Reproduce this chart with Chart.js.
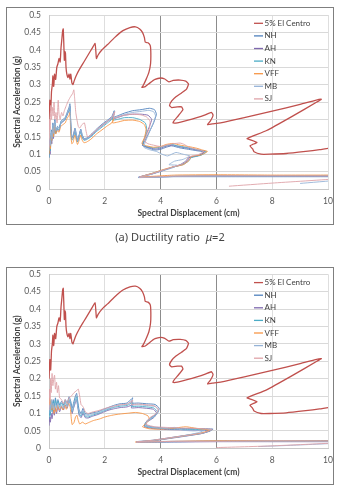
<!DOCTYPE html>
<html>
<head>
<meta charset="utf-8">
<script src="https://cdn.jsdelivr.net/npm/chart.js@4.4.1/dist/chart.umd.min.js"></script>
<style>
  body { margin: 0; background: #fff; width: 340px; height: 493px; position: relative; overflow: hidden; }
  .panel { position: absolute; left: 0; width: 340px; height: 230px; }
  .frame { position: absolute; left: 6px; width: 326px; border: 1px solid #7f7f7f; pointer-events: none; }
  .caption { position: absolute; left: 0; width: 340px; text-align: center; font: 11px "Noto Sans", sans-serif; color: #444; }
</style>
</head>
<body>
<div class="panel" style="top:0"><canvas id="chartMu2" width="340" height="230"></canvas></div>
<div class="frame" style="top:7px;height:216px"></div>
<div class="caption" style="top:229px">(a) Ductility ratio &nbsp;<i>μ</i>=2</div>
<div class="panel" style="top:260px"><canvas id="chartMu4" width="340" height="230"></canvas></div>
<div class="frame" style="top:267px;height:216px"></div>
<script>
// series labels and colours
const seriesLabels = ['5% El Centro', 'NH', 'AH', 'KN', 'VFF', 'MB', 'SJ'];
const seriesColors = ['#C0504D', '#4F81BD', '#7E68AE', '#4BACC6', '#F79646', '#95B3D7', '#DFA3A8'];

// tick labels
const xTicks = [0, 2, 4, 6, 8, 10];
const yTicks = [0, 0.05, 0.1, 0.15, 0.2, 0.25, 0.3, 0.35, 0.4, 0.45, 0.5];

// 5% damped elastic spectrum (same in both panels) - [Sd cm, Sa g]
const elCentro = [[0.0,0.20],[0.03,0.255],[0.06,0.225],[0.09,0.28],[0.12,0.30],[0.14,0.325],[0.17,0.295],[0.2,0.33],[0.24,0.315],[0.28,0.35],[0.32,0.36],[0.36,0.375],[0.4,0.365],[0.43,0.405],[0.46,0.43],[0.49,0.455],[0.51,0.46],[0.53,0.42],[0.55,0.37],[0.57,0.395],[0.59,0.39],[0.61,0.35],[0.64,0.33],[0.68,0.32],[0.72,0.33],[0.75,0.315],[0.78,0.33],[0.82,0.305],[0.86,0.30],[0.9,0.31],[0.97,0.325],[1.1,0.345],[1.25,0.365],[1.4,0.385],[1.55,0.405],[1.65,0.418],[1.68,0.395],[1.7,0.375],[1.76,0.385],[1.9,0.40],[2.1,0.415],[2.35,0.435],[2.65,0.455],[2.9,0.464],[3.1,0.466],[3.25,0.46],[3.35,0.45],[3.42,0.435],[3.45,0.422],[3.55,0.42],[3.63,0.412],[3.65,0.39],[3.64,0.36],[3.58,0.335],[3.48,0.315],[3.38,0.298],[3.33,0.292],[3.45,0.294],[3.62,0.305],[3.8,0.315],[4.0,0.319],[4.15,0.316],[4.3,0.308],[4.45,0.312],[4.7,0.313],[4.9,0.31],[5.0,0.302],[4.93,0.287],[4.75,0.276],[4.55,0.265],[4.4,0.253],[4.32,0.24],[4.4,0.234],[4.6,0.236],[4.75,0.236],[4.8,0.228],[4.65,0.212],[4.5,0.198],[4.44,0.19],[4.6,0.19],[4.95,0.197],[5.3,0.205],[5.6,0.213],[5.82,0.22],[5.88,0.212],[5.78,0.195],[5.68,0.185],[5.85,0.187],[6.15,0.19],[7.0,0.205],[8.0,0.224],[9.0,0.243],[9.55,0.255],[9.76,0.258],[9.6,0.25],[8.7,0.208],[7.8,0.168],[7.1,0.145],[7.2,0.142],[7.45,0.134],[7.3,0.128],[7.2,0.124],[7.3,0.115],[7.35,0.107],[7.6,0.1],[7.9,0.1],[8.5,0.102],[9.2,0.108],[9.7,0.113],[10.0,0.117],[10.6,0.122]];

// ductility ratio 2 demand spectra
const nh2 = [[0.0,0.1],[0.03,0.14],[0.05,0.12],[0.08,0.17],[0.11,0.145],[0.14,0.19],[0.17,0.16],[0.21,0.2],[0.25,0.17],[0.31,0.18],[0.37,0.175],[0.43,0.195],[0.5,0.2],[0.58,0.205],[0.65,0.22],[0.72,0.235],[0.75,0.245],[0.77,0.21],[0.79,0.17],[0.83,0.15],[0.88,0.155],[0.93,0.175],[0.98,0.158],[1.03,0.14],[1.09,0.158],[1.14,0.172],[1.19,0.156],[1.26,0.145],[1.36,0.147],[1.5,0.156],[1.7,0.172],[1.9,0.186],[2.1,0.198],[2.25,0.208],[2.34,0.225],[2.3,0.206],[2.45,0.21],[2.7,0.218],[3.0,0.225],[3.3,0.228],[3.6,0.232],[3.78,0.228],[3.85,0.215],[3.75,0.19],[3.6,0.165],[3.45,0.14],[3.35,0.125],[3.55,0.118],[3.8,0.112],[4.0,0.114],[4.2,0.12],[4.4,0.124],[4.7,0.118],[5.0,0.114],[5.3,0.11],[5.55,0.106],[5.35,0.096],[5.0,0.09],[4.9,0.08],[4.7,0.07],[4.4,0.062],[4.05,0.052],[3.65,0.042],[3.2,0.033],[4.5,0.036],[6.0,0.037],[8.0,0.036],[10.0,0.036],[10.8,0.036]];
const ah2 = [[0.0,0.09],[0.02,0.12],[0.04,0.1],[0.07,0.15],[0.1,0.13],[0.13,0.17],[0.16,0.145],[0.2,0.185],[0.24,0.16],[0.3,0.172],[0.36,0.168],[0.42,0.188],[0.5,0.193],[0.58,0.2],[0.65,0.212],[0.72,0.228],[0.75,0.238],[0.77,0.205],[0.79,0.165],[0.82,0.145],[0.87,0.15],[0.92,0.17],[0.97,0.153],[1.02,0.137],[1.08,0.153],[1.13,0.168],[1.18,0.152],[1.25,0.142],[1.35,0.144],[1.5,0.152],[1.7,0.168],[1.9,0.182],[2.1,0.194],[2.25,0.204],[2.33,0.22],[2.29,0.202],[2.45,0.205],[2.7,0.212],[3.0,0.215],[3.3,0.215],[3.55,0.212],[3.68,0.2],[3.6,0.18],[3.5,0.16],[3.4,0.138],[3.35,0.126],[3.55,0.12],[3.8,0.115],[4.0,0.117],[4.2,0.123],[4.45,0.126],[4.7,0.121],[5.0,0.117],[5.3,0.112],[5.6,0.108],[5.4,0.097],[5.05,0.091],[4.95,0.08],[4.75,0.07],[4.45,0.063],[4.1,0.054],[3.7,0.044],[3.22,0.034],[4.5,0.036],[6.0,0.037],[8.0,0.037],[10.0,0.037],[10.8,0.037]];
const kn2 = [[0.0,0.09],[0.03,0.13],[0.05,0.11],[0.08,0.16],[0.1,0.14],[0.13,0.18],[0.16,0.15],[0.2,0.19],[0.24,0.16],[0.3,0.175],[0.36,0.17],[0.42,0.19],[0.5,0.195],[0.58,0.2],[0.65,0.215],[0.72,0.225],[0.75,0.235],[0.77,0.2],[0.79,0.16],[0.82,0.14],[0.87,0.145],[0.92,0.165],[0.97,0.15],[1.02,0.135],[1.08,0.15],[1.13,0.165],[1.18,0.15],[1.25,0.14],[1.35,0.142],[1.5,0.15],[1.7,0.165],[1.9,0.178],[2.1,0.19],[2.25,0.2],[2.33,0.215],[2.28,0.198],[2.45,0.2],[2.7,0.205],[3.0,0.205],[3.25,0.2],[3.45,0.19],[3.5,0.175],[3.45,0.15],[3.35,0.128],[3.5,0.122],[3.75,0.118],[4.0,0.12],[4.2,0.125],[4.4,0.128],[4.6,0.124],[4.9,0.12],[5.2,0.115],[5.5,0.11],[5.65,0.107],[5.45,0.097],[5.1,0.09],[5.0,0.08],[4.8,0.07],[4.45,0.063],[4.1,0.055],[3.7,0.045],[3.25,0.034],[4.5,0.037],[6.0,0.038],[8.0,0.038],[10.0,0.039],[10.8,0.04]];
const vff2 = [[0.0,0.1],[0.03,0.13],[0.05,0.115],[0.08,0.155],[0.1,0.14],[0.13,0.175],[0.16,0.15],[0.2,0.185],[0.24,0.158],[0.3,0.168],[0.36,0.163],[0.42,0.18],[0.5,0.185],[0.58,0.19],[0.65,0.203],[0.72,0.212],[0.75,0.22],[0.77,0.185],[0.79,0.148],[0.82,0.13],[0.87,0.135],[0.92,0.155],[0.97,0.142],[1.02,0.128],[1.08,0.14],[1.13,0.155],[1.18,0.142],[1.25,0.133],[1.35,0.135],[1.5,0.143],[1.7,0.158],[1.9,0.17],[2.1,0.182],[2.25,0.19],[2.33,0.205],[2.28,0.19],[2.45,0.192],[2.7,0.197],[3.0,0.198],[3.25,0.194],[3.42,0.185],[3.48,0.17],[3.42,0.148],[3.33,0.13],[3.5,0.124],[3.75,0.12],[4.0,0.122],[4.2,0.128],[4.45,0.131],[4.7,0.126],[5.0,0.122],[5.3,0.117],[5.5,0.112],[5.68,0.108],[5.45,0.098],[5.1,0.093],[5.02,0.082],[4.82,0.07],[4.47,0.064],[4.1,0.056],[3.74,0.046],[3.28,0.035],[4.5,0.04],[6.0,0.041],[8.0,0.04],[10.0,0.04],[10.8,0.04]];
const mb2 = [[0.0,0.11],[0.03,0.145],[0.05,0.125],[0.08,0.165],[0.11,0.145],[0.14,0.185],[0.17,0.16],[0.21,0.195],[0.25,0.168],[0.31,0.178],[0.37,0.173],[0.43,0.19],[0.5,0.197],[0.58,0.203],[0.65,0.217],[0.72,0.23],[0.75,0.24],[0.77,0.207],[0.79,0.168],[0.83,0.148],[0.88,0.152],[0.93,0.172],[0.98,0.155],[1.03,0.138],[1.09,0.155],[1.14,0.17],[1.19,0.154],[1.26,0.143],[1.36,0.145],[1.5,0.153],[1.7,0.169],[1.9,0.183],[2.1,0.195],[2.25,0.205],[2.34,0.222],[2.3,0.203],[2.45,0.207],[2.7,0.214],[3.0,0.22],[3.3,0.223],[3.58,0.226],[3.75,0.222],[3.82,0.21],[3.72,0.186],[3.58,0.16],[3.45,0.135],[3.4,0.12],[3.6,0.113],[3.85,0.108],[4.05,0.1],[4.25,0.095],[4.55,0.105],[4.8,0.1],[5.05,0.095],[4.8,0.085],[4.5,0.08],[4.3,0.07],[4.6,0.068],[4.4,0.06],[4.05,0.052],[3.65,0.042],[3.2,0.033],[4.5,0.035],[6.0,0.035],[8.0,0.035],[10.0,0.035],[10.8,0.035],[10.4,0.026],[9.0,0.016]];
const sj2 = [[0.0,0.12],[0.02,0.2],[0.04,0.17],[0.06,0.24],[0.09,0.2],[0.12,0.235],[0.15,0.21],[0.18,0.25],[0.21,0.2],[0.25,0.22],[0.29,0.19],[0.33,0.255],[0.36,0.215],[0.4,0.2],[0.45,0.22],[0.5,0.21],[0.55,0.225],[0.62,0.24],[0.7,0.255],[0.77,0.265],[0.85,0.275],[0.89,0.285],[0.92,0.26],[0.96,0.22],[1.0,0.2],[1.05,0.18],[1.1,0.175],[1.18,0.185],[1.27,0.19],[1.32,0.17],[1.38,0.15],[1.5,0.155],[1.7,0.17],[1.9,0.183],[2.1,0.195],[2.25,0.205],[2.36,0.222],[2.31,0.203],[2.45,0.207],[2.7,0.212],[3.0,0.215],[3.3,0.213],[3.5,0.207],[3.62,0.195],[3.6,0.175],[3.5,0.155],[3.42,0.138],[3.55,0.13],[3.8,0.125],[4.0,0.122],[4.2,0.126],[4.45,0.13],[4.7,0.132],[4.85,0.128],[5.0,0.12],[5.3,0.114],[5.55,0.108],[5.35,0.099],[5.0,0.092],[4.92,0.08],[4.72,0.07],[4.42,0.063],[4.08,0.054],[3.7,0.044],[3.24,0.034],[4.5,0.037],[6.0,0.038],[8.0,0.038],[10.0,0.038],[10.8,0.038],[10.4,0.03],[8.0,0.017],[6.45,0.008]];

// ductility ratio 4 demand spectra
const nh4 = [[0.0,0.095],[0.03,0.12],[0.05,0.1],[0.08,0.135],[0.11,0.11],[0.15,0.14],[0.19,0.12],[0.23,0.145],[0.27,0.125],[0.32,0.14],[0.38,0.125],[0.45,0.135],[0.52,0.125],[0.58,0.14],[0.65,0.13],[0.72,0.148],[0.78,0.135],[0.83,0.115],[0.88,0.13],[0.94,0.148],[0.99,0.158],[1.03,0.135],[1.08,0.11],[1.15,0.1],[1.22,0.115],[1.3,0.1],[1.4,0.098],[1.55,0.102],[1.75,0.105],[1.95,0.112],[2.15,0.118],[2.35,0.124],[2.55,0.128],[2.8,0.13],[3.0,0.145],[2.95,0.13],[3.2,0.13],[3.5,0.128],[3.8,0.126],[3.95,0.115],[3.88,0.1],[3.65,0.088],[3.5,0.078],[3.48,0.066],[3.75,0.061],[4.2,0.058],[4.8,0.057],[5.3,0.057],[5.88,0.055],[5.55,0.045],[4.95,0.038],[4.3,0.03],[3.7,0.023],[3.12,0.019],[4.5,0.02],[6.0,0.021],[8.0,0.021],[10.0,0.022],[10.8,0.022]];
const ah4 = [[0.0,0.065],[0.03,0.09],[0.05,0.075],[0.08,0.1],[0.11,0.085],[0.15,0.11],[0.19,0.095],[0.23,0.115],[0.27,0.1],[0.32,0.12],[0.38,0.105],[0.45,0.12],[0.52,0.11],[0.58,0.125],[0.65,0.115],[0.72,0.135],[0.78,0.125],[0.83,0.1],[0.88,0.115],[0.94,0.13],[0.99,0.14],[1.03,0.12],[1.08,0.095],[1.15,0.088],[1.22,0.1],[1.3,0.088],[1.4,0.087],[1.55,0.092],[1.75,0.097],[1.95,0.104],[2.15,0.11],[2.35,0.114],[2.55,0.117],[2.8,0.119],[3.0,0.125],[2.95,0.116],[3.2,0.117],[3.5,0.115],[3.75,0.112],[3.85,0.102],[3.78,0.09],[3.6,0.08],[3.45,0.072],[3.42,0.062],[3.7,0.057],[4.2,0.054],[4.8,0.053],[5.3,0.052],[5.78,0.05],[5.45,0.042],[4.9,0.035],[4.3,0.028],[3.7,0.021],[3.15,0.017],[4.5,0.018],[6.0,0.019],[8.0,0.019],[10.0,0.019],[10.8,0.019]];
const kn4 = [[0.0,0.085],[0.03,0.115],[0.05,0.095],[0.08,0.13],[0.11,0.105],[0.15,0.135],[0.19,0.115],[0.23,0.14],[0.27,0.12],[0.32,0.135],[0.38,0.12],[0.45,0.13],[0.52,0.12],[0.58,0.135],[0.65,0.122],[0.72,0.14],[0.78,0.128],[0.83,0.105],[0.88,0.12],[0.94,0.138],[0.99,0.148],[1.03,0.125],[1.08,0.1],[1.15,0.092],[1.22,0.106],[1.3,0.092],[1.4,0.09],[1.55,0.095],[1.75,0.1],[1.95,0.107],[2.15,0.113],[2.35,0.118],[2.55,0.121],[2.8,0.123],[3.0,0.132],[2.95,0.12],[3.2,0.121],[3.5,0.119],[3.75,0.116],[3.88,0.106],[3.8,0.093],[3.62,0.083],[3.46,0.074],[3.44,0.064],[3.72,0.059],[4.2,0.056],[4.8,0.055],[5.3,0.054],[5.82,0.052],[5.5,0.043],[4.92,0.036],[4.3,0.029],[3.7,0.022],[3.14,0.018],[4.5,0.019],[6.0,0.02],[8.0,0.02],[10.0,0.02],[10.8,0.02]];
const vff4 = [[0.0,0.12],[0.02,0.145],[0.04,0.125],[0.07,0.14],[0.1,0.11],[0.14,0.125],[0.18,0.1],[0.22,0.12],[0.26,0.105],[0.31,0.125],[0.37,0.11],[0.43,0.12],[0.5,0.11],[0.56,0.125],[0.62,0.112],[0.7,0.13],[0.76,0.118],[0.8,0.085],[0.83,0.068],[0.9,0.075],[0.95,0.09],[1.0,0.095],[1.05,0.08],[1.1,0.07],[1.2,0.075],[1.3,0.07],[1.45,0.075],[1.6,0.08],[1.8,0.084],[2.0,0.09],[2.2,0.094],[2.4,0.097],[2.6,0.099],[2.85,0.101],[3.1,0.103],[3.35,0.1],[3.55,0.093],[3.6,0.082],[3.45,0.07],[3.35,0.062],[3.6,0.056],[4.0,0.055],[4.5,0.058],[4.9,0.062],[5.3,0.057],[5.75,0.052],[5.4,0.043],[4.85,0.036],[4.3,0.029],[3.7,0.022],[3.1,0.018],[4.5,0.02],[6.0,0.022],[6.6,0.022],[8.0,0.021],[10.0,0.021],[10.8,0.021]];
const mb4 = [[0.0,0.1],[0.03,0.125],[0.05,0.105],[0.08,0.14],[0.11,0.115],[0.15,0.13],[0.19,0.11],[0.23,0.13],[0.27,0.115],[0.32,0.13],[0.38,0.115],[0.45,0.125],[0.52,0.115],[0.58,0.13],[0.65,0.12],[0.72,0.135],[0.78,0.125],[0.83,0.108],[0.88,0.122],[0.94,0.135],[0.99,0.14],[1.03,0.12],[1.08,0.105],[1.15,0.097],[1.22,0.11],[1.3,0.096],[1.4,0.094],[1.55,0.098],[1.75,0.103],[1.95,0.11],[2.15,0.115],[2.35,0.12],[2.55,0.124],[2.8,0.126],[3.0,0.136],[2.95,0.124],[3.2,0.125],[3.5,0.123],[3.8,0.12],[3.92,0.11],[3.85,0.096],[3.65,0.085],[3.5,0.076],[3.47,0.066],[3.74,0.06],[4.2,0.057],[4.5,0.06],[4.8,0.052],[5.2,0.05],[5.6,0.052],[5.3,0.044],[4.9,0.037],[4.3,0.029],[3.7,0.022],[3.13,0.018],[4.5,0.019],[6.0,0.02],[8.0,0.02],[10.0,0.02],[10.8,0.02],[10.4,0.015],[8.5,0.008],[7.5,0.005]];
const sj4 = [[0.0,0.11],[0.02,0.17],[0.04,0.14],[0.06,0.2],[0.08,0.16],[0.11,0.215],[0.14,0.18],[0.17,0.2],[0.2,0.21],[0.23,0.17],[0.27,0.19],[0.3,0.16],[0.34,0.18],[0.38,0.145],[0.45,0.14],[0.52,0.128],[0.58,0.14],[0.65,0.128],[0.72,0.145],[0.8,0.15],[0.9,0.16],[0.98,0.165],[1.05,0.17],[1.1,0.15],[1.15,0.125],[1.22,0.12],[1.3,0.105],[1.4,0.1],[1.55,0.104],[1.75,0.108],[1.95,0.113],[2.15,0.118],[2.35,0.122],[2.55,0.125],[2.8,0.127],[3.0,0.138],[2.95,0.126],[3.2,0.127],[3.5,0.125],[3.78,0.122],[3.92,0.113],[3.85,0.1],[3.65,0.09],[3.52,0.08],[3.5,0.068],[3.78,0.062],[4.2,0.06],[4.8,0.058],[5.3,0.057],[5.85,0.054],[5.52,0.044],[4.95,0.037],[4.3,0.03],[3.7,0.023],[3.13,0.018],[4.5,0.02],[6.0,0.02],[8.0,0.021],[10.0,0.021],[10.8,0.021],[10.4,0.016],[8.0,0.007],[6.0,0.002]];

const FONT = 'Lato, "Liberation Sans", sans-serif';

// legend drawn inside the plot area, top right
const insideLegend = {
    id: 'insideLegend',
    afterDatasetsDraw(chart) {
        const { ctx, chartArea } = chart;
        ctx.save();
        ctx.font = '8px ' + FONT;
        ctx.textBaseline = 'middle';
        chart.data.datasets.forEach((ds, i) => {
            const y = chartArea.top + 8.3 + i * 12.6;
            const x = chartArea.left + 205;
            ctx.strokeStyle = ds.borderColor;
            ctx.lineWidth = 1.3;
            ctx.beginPath();
            ctx.moveTo(x, y);
            ctx.lineTo(x + 9, y);
            ctx.stroke();
            ctx.fillStyle = '#404040';
            ctx.fillText(ds.label, x + 10.5, y);
        });
        ctx.restore();
    }
};

function makeChart(canvasId, series, padTop, padBottom) {
    const datasets = series.map((pts, i) => ({
        label: seriesLabels[i],
        data: pts.map(p => ({ x: p[0], y: p[1] })),
        borderColor: seriesColors[i],
        borderWidth: i === 0 ? 1.3 : 0.9,
        pointRadius: 0,
        showLine: true,
        tension: 0.15,
        order: -i,   // later series on top, like the spreadsheet
        fill: false
    }));

    return new Chart(document.getElementById(canvasId).getContext('2d'), {
        type: 'scatter',
        data: { datasets: datasets },
        options: {
            responsive: false,
            animation: false,
            layout: { padding: { top: padTop, right: 12, bottom: padBottom, left: 0 } },
            plugins: {
                legend: { display: false },
                tooltip: { enabled: false }
            },
            scales: {
                x: {
                    type: 'linear',
                    min: 0,
                    max: 10,
                    afterBuildTicks: s => { s.ticks = xTicks.map(v => ({ value: v })); },
                    afterFit: s => { s.height = 29; },
                    ticks: { font: { family: FONT, size: 8.5 }, color: '#595959', padding: 7 },
                    grid: {
                        drawTicks: false,
                        color: c => (c.tick && (c.tick.value === 4 || c.tick.value === 6)) ? '#8c8c8c' : '#dedede'
                    },
                    border: { color: '#c8c8c8' },
                    title: {
                        display: true,
                        text: 'Spectral Displacement (cm)',
                        color: '#404040',
                        font: { family: FONT, size: 8.5, weight: 'bold' },
                        padding: { top: 0, bottom: 0 }
                    }
                },
                y: {
                    min: 0,
                    max: 0.5,
                    afterBuildTicks: s => { s.ticks = yTicks.map(v => ({ value: v })); },
                    afterFit: s => { s.width = 49; },
                    ticks: {
                        font: { family: FONT, size: 8.5 },
                        color: '#595959',
                        padding: 8,
                        callback: v => String(Math.round(v * 100) / 100)
                    },
                    grid: { drawTicks: false, color: '#d9d9d9' },
                    border: { color: '#c8c8c8' },
                    title: {
                        display: true,
                        text: 'Spectral Acceleration (g)',
                        color: '#404040',
                        font: { family: FONT, size: 8.5, weight: 'bold' },
                        padding: { top: 12, bottom: 0 }
                    }
                }
            }
        },
        plugins: [insideLegend]
    });
}

makeChart('chartMu2', [elCentro, nh2, ah2, kn2, vff2, mb2, sj2], 15, 12);
makeChart('chartMu4', [elCentro, nh4, ah4, kn4, vff4, mb4, sj4], 14.3, 12.7);
</script>
</body>
</html>
